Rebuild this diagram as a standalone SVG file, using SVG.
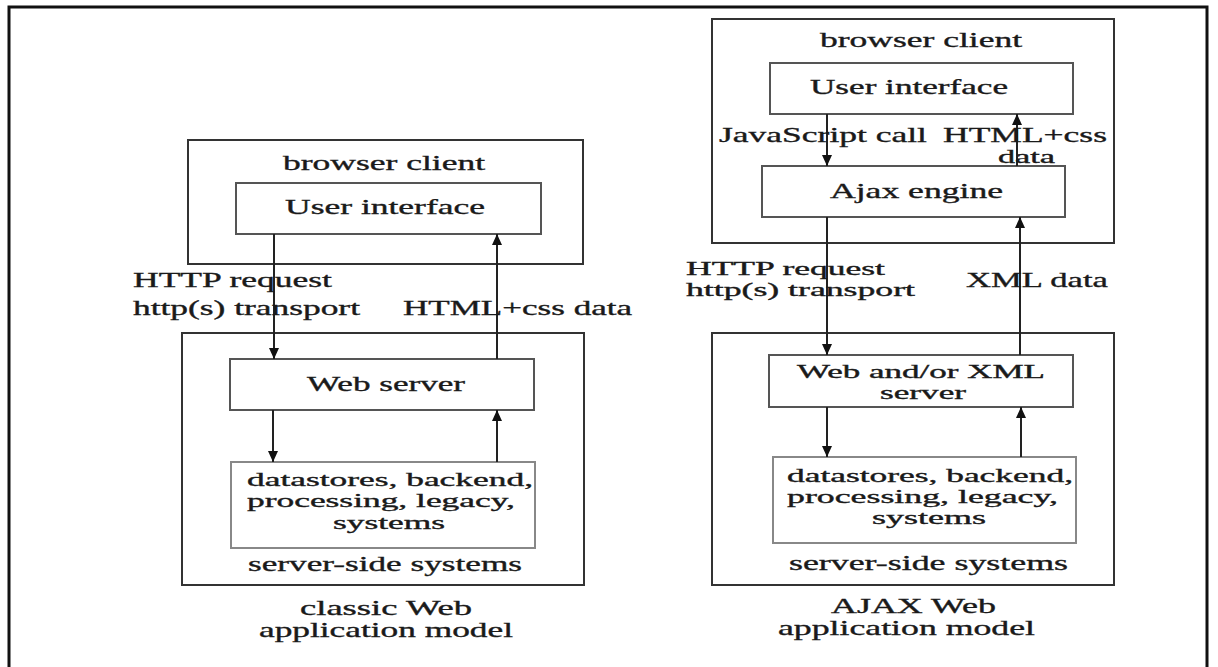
<svg xmlns="http://www.w3.org/2000/svg" width="1218" height="667" viewBox="0 0 1218 667">
<style>
text{font-family:"Liberation Serif","Times New Roman",serif;font-size:21px;fill:#1a1a1a;stroke:#1a1a1a;stroke-width:0.35}
.ml{font-size:18px}
.box{fill:#fff;stroke:#333;stroke-width:2}
.inner{fill:#fff;stroke:#555;stroke-width:2}
.light{fill:#fff;stroke:#888;stroke-width:2}
.con{stroke:#222;stroke-width:2;fill:none;marker-end:url(#ah)}
</style>
<defs>
<marker id="ah" markerUnits="userSpaceOnUse" markerWidth="12" markerHeight="12" viewBox="0 0 12 12" refX="11" refY="6" orient="auto">
<path d="M0,1 L11,6 L0,11 Z" fill="#111"/>
</marker>
</defs>
<rect width="1218" height="667" fill="#fff"/>
<rect id="frame" x="9" y="7" width="1198" height="680" fill="none" stroke="#111" stroke-width="3"/>

<g id="classic-browser-client">
<rect class="box" x="188" y="140" width="395" height="124"/>
<text x="283" y="170" textLength="202" lengthAdjust="spacingAndGlyphs">browser client</text>
</g>
<g id="classic-user-interface">
<rect class="inner" x="236" y="183" width="305" height="51"/>
<text x="285" y="214" textLength="200" lengthAdjust="spacingAndGlyphs">User interface</text>
</g>
<g id="classic-server-side">
<rect class="box" x="182" y="333" width="402" height="252"/>
<text x="248" y="571" textLength="274" lengthAdjust="spacingAndGlyphs">server-side systems</text>
</g>
<g id="classic-web-server">
<rect class="inner" x="230" y="359" width="304" height="51"/>
<text x="307" y="391" textLength="158" lengthAdjust="spacingAndGlyphs">Web server</text>
</g>
<g id="classic-datastores">
<rect class="light" x="231" y="462" width="304" height="86"/>
<text class="ml" x="247" y="486" textLength="286" lengthAdjust="spacingAndGlyphs">datastores, backend,</text>
<text class="ml" x="247" y="507" textLength="268" lengthAdjust="spacingAndGlyphs">processing, legacy,</text>
<text class="ml" x="333" y="529" textLength="112" lengthAdjust="spacingAndGlyphs">systems</text>
</g>
<g id="classic-caption">
<text x="300" y="615" textLength="172" lengthAdjust="spacingAndGlyphs">classic Web</text>
<text x="259" y="637" textLength="254" lengthAdjust="spacingAndGlyphs">application model</text>
</g>

<g id="ajax-browser-client">
<rect class="box" x="712" y="19" width="402" height="224"/>
<text x="820" y="47" textLength="202" lengthAdjust="spacingAndGlyphs">browser client</text>
</g>
<g id="ajax-user-interface">
<rect class="inner" x="770" y="63" width="303" height="51"/>
<text x="810" y="94" textLength="198" lengthAdjust="spacingAndGlyphs">User interface</text>
</g>
<g id="ajax-engine">
<rect class="inner" x="762" y="166" width="303" height="51"/>
<text x="830" y="198" textLength="173" lengthAdjust="spacingAndGlyphs">Ajax engine</text>
</g>
<g id="ajax-server-side">
<rect class="box" x="712" y="333" width="402" height="252"/>
<text x="789" y="570" textLength="279" lengthAdjust="spacingAndGlyphs">server-side systems</text>
</g>
<g id="ajax-web-xml-server">
<rect class="inner" x="769" y="355" width="304" height="52"/>
<text class="ml" x="797" y="378" textLength="248" lengthAdjust="spacingAndGlyphs">Web and/or XML</text>
<text class="ml" x="880" y="399" textLength="86" lengthAdjust="spacingAndGlyphs">server</text>
</g>
<g id="ajax-datastores">
<rect class="light" x="773" y="457" width="303" height="86"/>
<text class="ml" x="787" y="482" textLength="286" lengthAdjust="spacingAndGlyphs">datastores, backend,</text>
<text class="ml" x="787" y="503" textLength="271" lengthAdjust="spacingAndGlyphs">processing, legacy,</text>
<text class="ml" x="872" y="524" textLength="114" lengthAdjust="spacingAndGlyphs">systems</text>
</g>
<g id="ajax-caption">
<text x="831" y="613" textLength="165" lengthAdjust="spacingAndGlyphs">AJAX Web</text>
<text x="778" y="635" textLength="257" lengthAdjust="spacingAndGlyphs">application model</text>
</g>

<g id="connectors">
<line class="con" x1="274" y1="234" x2="274" y2="359"/>
<line class="con" x1="497" y1="359" x2="497" y2="234"/>
<line class="con" x1="273" y1="410" x2="273" y2="462"/>
<line class="con" x1="497" y1="462" x2="497" y2="410"/>
<line class="con" x1="827" y1="114" x2="827" y2="166"/>
<line class="con" x1="1017" y1="166" x2="1017" y2="114"/>
<line class="con" x1="827" y1="217" x2="827" y2="355"/>
<line class="con" x1="1020" y1="355" x2="1020" y2="217"/>
<line class="con" x1="827" y1="407" x2="827" y2="457"/>
<line class="con" x1="1021" y1="457" x2="1021" y2="407"/>
</g>

<g id="connector-labels">
<text x="133" y="287" textLength="199" lengthAdjust="spacingAndGlyphs">HTTP request</text>
<text x="133" y="315" textLength="227" lengthAdjust="spacingAndGlyphs">http(s) transport</text>
<text x="403" y="315" textLength="229" lengthAdjust="spacingAndGlyphs">HTML+css data</text>
<text x="719" y="142" textLength="208" lengthAdjust="spacingAndGlyphs">JavaScript call</text>
<text x="943" y="142" textLength="164" lengthAdjust="spacingAndGlyphs">HTML+css</text>
<text class="ml" x="998" y="163" textLength="57" lengthAdjust="spacingAndGlyphs">data</text>
<text class="ml" x="686" y="275" textLength="199" lengthAdjust="spacingAndGlyphs">HTTP request</text>
<text class="ml" x="686" y="296" textLength="229" lengthAdjust="spacingAndGlyphs">http(s) transport</text>
<text x="966" y="287" textLength="142" lengthAdjust="spacingAndGlyphs">XML data</text>
</g>
</svg>
